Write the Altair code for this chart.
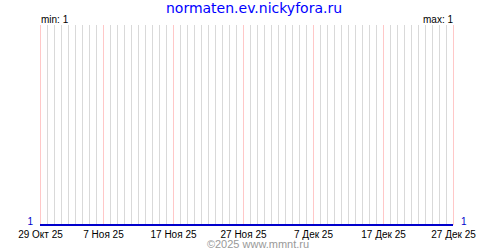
import altair as alt
import pandas as pd

# ---- data ----
days = pd.date_range("2025-10-29", "2025-12-27", freq="D").strftime("%Y-%m-%d").tolist()
values = [1] * len(days)          # every daily value is 1 (min: 1, max: 1)
major_days = ["2025-10-29", "2025-11-07", "2025-11-17", "2025-11-27",
              "2025-12-07", "2025-12-17", "2025-12-27"]
months_ru = ["Янв", "Фев", "Мар", "Апр", "Май", "Июн",
             "Июл", "Авг", "Сен", "Окт", "Ноя", "Дек"]
title_text = "normaten.ev.nickyfora.ru"
min_text = "min: 1"
max_text = "max: 1"
copyright_text = "©2025 www.mmnt.ru"

series = pd.DataFrame({"date": days, "value": values})
minor_grid = pd.DataFrame({"date": [d for d in days if d not in major_days]})
major_grid = pd.DataFrame({"date": major_days})
ends = pd.DataFrame({"date": [days[0], days[-1]], "value": [values[0], values[-1]],
                     "side": ["left", "right"]})
labels = pd.DataFrame({"date": [days[0], days[-1]], "text": [min_text, max_text],
                       "side": ["left", "right"]})

FONT = "Liberation Sans"
month_arr = "[" + ",".join("'" + m + "'" for m in months_ru) + "]"
major_ms = [int(pd.Timestamp(d, tz="UTC").timestamp() * 1000) for d in major_days]

xscale = alt.Scale(type="utc", domain=[days[0], days[-1]])
yscale = alt.Scale(domain=[1, 2])

minor = alt.Chart(minor_grid).mark_rule(strokeWidth=1, color="#d9d9d9", xOffset=0.5).encode(
    x=alt.X("date:T", scale=xscale,
            axis=alt.Axis(values=major_ms, grid=False, domain=False, ticks=False,
                          title=None, labelFont=FONT, labelFontSize=10,
                          labelColor="#000000", labelPadding=4,
                          labelOverlap=False, labelBound=False, labelFlush=False,
                          labelExpr="utcdate(datum.value) + ' ' + " + month_arr +
                                    "[utcmonth(datum.value)] + ' 25'")),
    y=alt.value(0),
    y2=alt.value(200),
)

major = alt.Chart(major_grid).mark_rule(strokeWidth=1, color="#ffc8c8", xOffset=0.5).encode(
    x=alt.X("date:T", scale=xscale),
    y=alt.value(0),
    y2=alt.value(200),
)

line = alt.Chart(series).mark_line(color="#0000cc", strokeWidth=2).encode(
    x=alt.X("date:T", scale=xscale),
    y=alt.Y("value:Q", scale=yscale, axis=None),
)

end_left = alt.Chart(ends[ends.side == "left"]).mark_text(
    font=FONT, fontSize=10, color="#0000cc", align="right", baseline="middle", dx=-7, dy=-3
).encode(x=alt.X("date:T", scale=xscale), y=alt.Y("value:Q", scale=yscale), text="value:Q")

end_right = alt.Chart(ends[ends.side == "right"]).mark_text(
    font=FONT, fontSize=10, color="#0000cc", align="left", baseline="middle", dx=8, dy=-3
).encode(x=alt.X("date:T", scale=xscale), y=alt.Y("value:Q", scale=yscale), text="value:Q")

min_lbl = alt.Chart(labels[labels.side == "left"]).mark_text(
    font=FONT, fontSize=10, color="#000000", align="left", baseline="alphabetic", dx=1
).encode(x=alt.X("date:T", scale=xscale), y=alt.value(-2), text="text:N")

max_lbl = alt.Chart(labels[labels.side == "right"]).mark_text(
    font=FONT, fontSize=10, color="#000000", align="right", baseline="alphabetic", dx=0
).encode(x=alt.X("date:T", scale=xscale), y=alt.value(-2), text="text:N")

title = alt.Chart(pd.DataFrame({"t": [title_text]})).mark_text(
    font="DejaVu Sans", fontSize=14, color="#0000ff", align="center", baseline="alphabetic"
).encode(x=alt.value(214), y=alt.value(-12), text="t:N")

copyright_mark = alt.Chart(pd.DataFrame({"t": [copyright_text]})).mark_text(
    font=FONT, fontSize=11, color="#999999", align="center", baseline="alphabetic"
).encode(x=alt.value(218), y=alt.value(223), text="t:N")

chart = alt.layer(
    minor, major, line, end_left, end_right, min_lbl, max_lbl, title, copyright_mark
).properties(
    width=413, height=200,
    autosize=alt.AutoSizeParams(type="none"),
    padding={"left": 40, "top": 25, "right": 47, "bottom": 25},
    background="#ffffff",
).configure_view(stroke=None)

chart.save("out.html", embed_options={"renderer": "svg", "actions": False})
